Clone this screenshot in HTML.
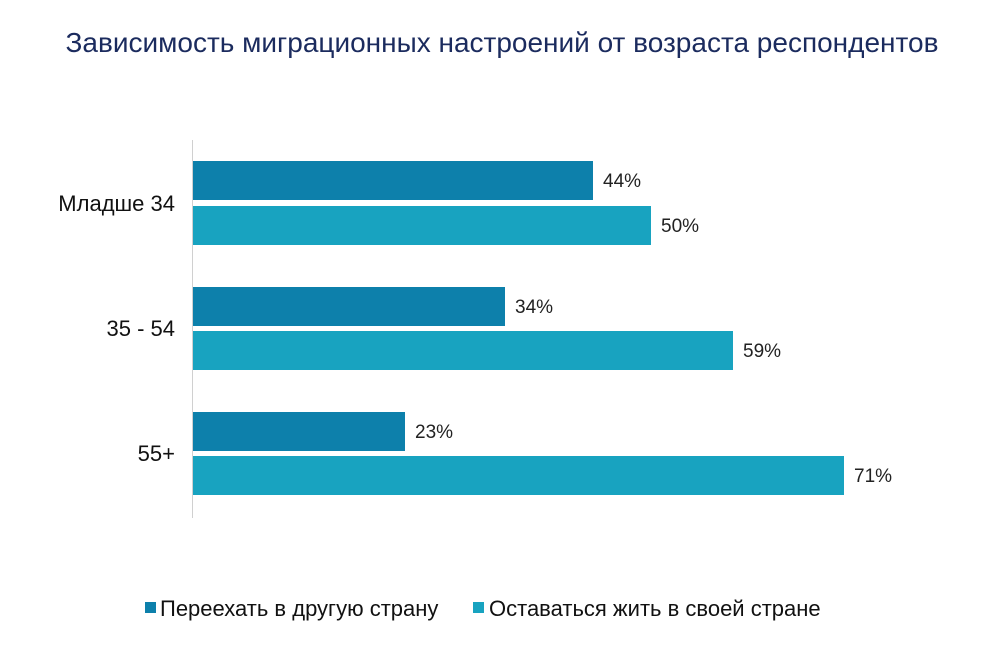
<!DOCTYPE html>
<html><head><meta charset="utf-8"><style>
body{margin:0;width:1000px;height:670px;background:#fff;position:relative;overflow:hidden;font-family:"Liberation Sans","DejaVu Sans",sans-serif;}
.t{position:absolute;white-space:nowrap;}
.b{position:absolute;left:193px;height:39px;}
.d{background:#0d80ab}.l{background:#18a3c0}
.v{position:absolute;font-size:19px;color:#222;}
.c{position:absolute;font-size:22px;color:#111;text-align:right;width:175px;left:0;}
</style></head><body>
<div class="t" style="left:0;width:1004px;text-align:center;top:27px;font-size:28px;color:#1b2b5e;">Зависимость миграционных настроений от возраста респондентов</div>
<div style="position:absolute;left:192px;top:140px;width:1px;height:378px;background:#d0d0d0"></div>
<div class="b d" style="top:161px;width:400px"></div>
<div class="b l" style="top:206px;width:458px"></div>
<div class="b d" style="top:287px;width:312px"></div>
<div class="b l" style="top:331px;width:540px"></div>
<div class="b d" style="top:412px;width:212px"></div>
<div class="b l" style="top:456px;width:651px"></div>
<div class="v" style="left:603px;top:171px">44%</div>
<div class="v" style="left:661px;top:216px">50%</div>
<div class="v" style="left:515px;top:297px">34%</div>
<div class="v" style="left:743px;top:341px">59%</div>
<div class="v" style="left:415px;top:422px">23%</div>
<div class="v" style="left:854px;top:466px">71%</div>
<div class="c" style="top:191px">Младше 34</div>
<div class="c" style="top:316px">35 - 54</div>
<div class="c" style="top:441px">55+</div>
<div style="position:absolute;left:145px;top:602px;width:11px;height:11px;background:#0d80ab"></div>
<div class="t" style="left:160px;top:596px;font-size:22px;color:#111">Переехать в другую страну</div>
<div style="position:absolute;left:473px;top:602px;width:11px;height:11px;background:#18a3c0"></div>
<div class="t" style="left:489px;top:596px;font-size:22px;color:#111">Оставаться жить в своей стране</div>
</body></html>
